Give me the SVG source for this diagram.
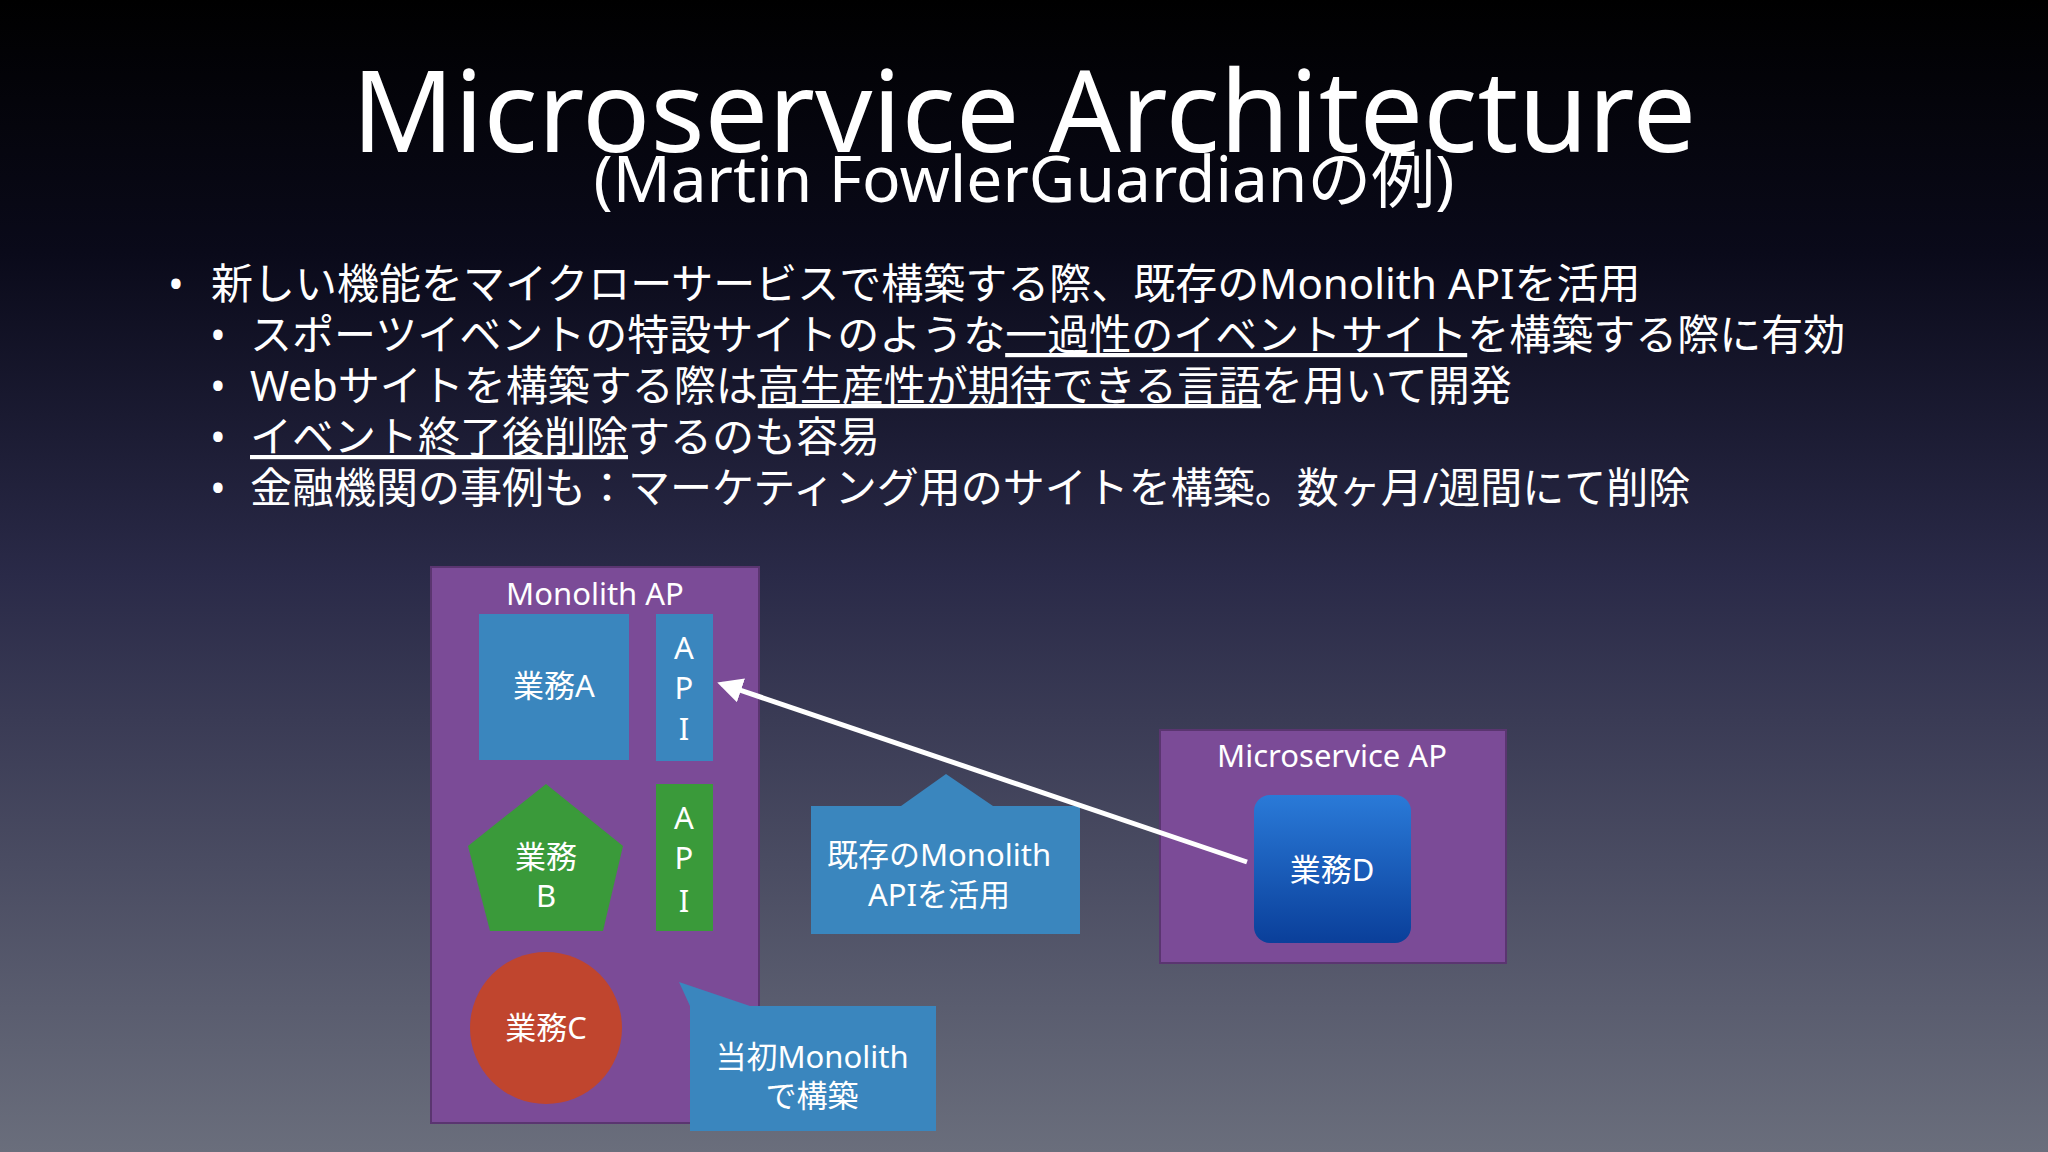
<svg xmlns="http://www.w3.org/2000/svg" width="2048" height="1152" viewBox="0 0 2048 1152">
<defs>
<linearGradient id="bg" x1="0" y1="0" x2="0" y2="1">
<stop offset="0" stop-color="#000000"/><stop offset="0.22" stop-color="#0a0a1a"/><stop offset="0.5" stop-color="#2a2a48"/><stop offset="1" stop-color="#6a6e7c"/>
</linearGradient>
<linearGradient id="bd" x1="0" y1="0" x2="0" y2="1">
<stop offset="0" stop-color="#2a7ad8"/><stop offset="1" stop-color="#0a3f9a"/>
</linearGradient>
<marker id="ah" viewBox="0 0 10 10" refX="8" refY="5" markerWidth="5" markerHeight="5" orient="auto"><path d="M0,0 L10,5 L0,10 z" fill="#fff"/></marker>
<style>
text{font-family:"Noto Sans","Noto Sans CJK JP",sans-serif;fill:#fff}
.b{font-size:42px}
.n{font-size:31px;text-anchor:middle}
.u{text-decoration:underline}
.pur{fill:#7b4b97;stroke:#5a3570;stroke-width:2}
.blu{fill:#3a86be}
.grn{fill:#3a9a3a}
</style>
</defs>
<rect width="2048" height="1152" fill="url(#bg)"/>
<g id="title">
<text x="1024" y="152" font-size="113" text-anchor="middle">Microservice Architecture</text>
<text x="1024" y="202" font-size="64" text-anchor="middle">(Martin FowlerGuardianの例)</text>
</g>
<g id="bullets">
<text x="168" y="299" class="b">•</text>
<text x="211" y="299" class="b">新しい機能をマイクローサービスで構築する際、既存のMonolith APIを活用</text>
<text x="210" y="350" class="b">•</text>
<text x="250" y="350" class="b">スポーツイベントの特設サイトのような<tspan class="u">一過性のイベントサイト</tspan>を構築する際に有効</text>
<text x="210" y="401" class="b">•</text>
<text x="250" y="401" class="b">Webサイトを構築する際は<tspan class="u">高生産性が期待できる言語</tspan>を用いて開発</text>
<text x="210" y="452" class="b">•</text>
<text x="250" y="452" class="b"><tspan class="u">イベント終了後削除</tspan>するのも容易</text>
<text x="210" y="503" class="b">•</text>
<text x="250" y="503" class="b">金融機関の事例も：マーケティング用のサイトを構築。数ヶ月/週間にて削除</text>
</g>
<g id="monolith">
<rect x="431" y="567" width="328" height="556" class="pur"/>
<text x="595" y="605" class="n">Monolith AP</text>
</g>
<g id="gyomuA"><rect x="479" y="614" width="150" height="146" class="blu"/><text x="554" y="697" class="n">業務A</text></g>
<g id="api1"><rect x="656" y="614" width="57" height="147" class="blu"/>
<text x="684" y="659" class="n">A</text><text x="684" y="699" class="n">P</text><text x="684" y="740" class="n">I</text></g>
<g id="api2"><rect x="656" y="784" width="57" height="147" class="grn"/>
<text x="684" y="829" class="n">A</text><text x="684" y="869" class="n">P</text><text x="684" y="912" class="n">I</text></g>
<g id="gyomuB"><polygon points="546,784 623,846 603,931 490,931 468,846" class="grn"/>
<text x="546" y="868" class="n">業務</text><text x="546" y="907" class="n">B</text></g>
<g id="gyomuC"><circle cx="546" cy="1028" r="76" fill="#c0452e"/><text x="546" y="1039" class="n">業務C</text></g>
<g id="note1"><path d="M690,1006 L679,982 L750,1006 L936,1006 L936,1131 L690,1131 Z" class="blu"/>
<text x="812" y="1068" class="n">当初Monolith</text><text x="812" y="1107" class="n">で構築</text></g>
<g id="note2"><path d="M811,806 L901,806 L946,774 L993,806 L1080,806 L1080,934 L811,934 Z" class="blu"/>
<text x="939" y="866" class="n">既存のMonolith</text><text x="939" y="906" class="n">APIを活用</text></g>
<g id="micro"><rect x="1160" y="730" width="346" height="233" class="pur"/><text x="1332" y="767" class="n">Microservice AP</text></g>
<g id="gyomuD"><rect x="1254" y="795" width="157" height="148" rx="16" fill="url(#bd)"/><text x="1332" y="881" class="n">業務D</text></g>
<g id="connectors"><line x1="1247" y1="862" x2="722" y2="684" stroke="#fff" stroke-width="5" marker-end="url(#ah)"/></g>
</svg>
